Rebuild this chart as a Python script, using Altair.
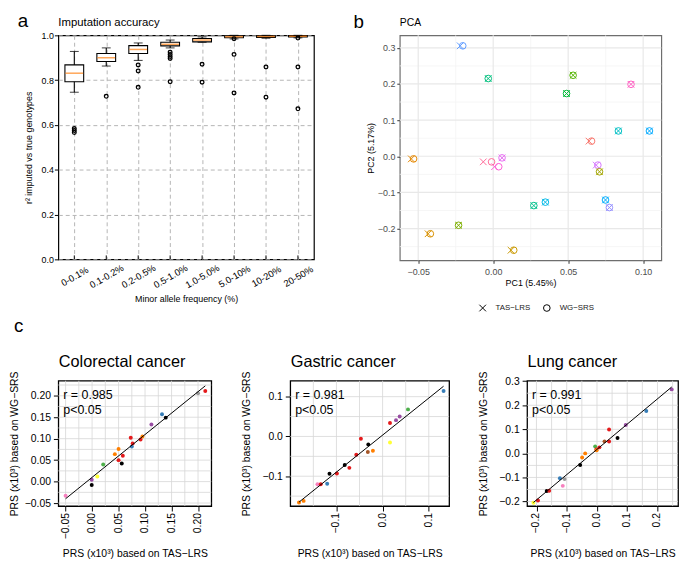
import altair as alt
import pandas as pd

FONT = "Liberation Sans"

# ---------------- panel a : imputation accuracy (box summaries) ----------------
maf_bins = ["0-0.1%", "0.1-0.2%", "0.2-0.5%", "0.5-1.0%", "1.0-5.0%", "5.0-10%", "10-20%", "20-50%"]
whisker_low = [0.746, 0.863, 0.888, 0.944, 0.969, 0.984, 0.987, 0.989]
box_q1 = [0.793, 0.883, 0.919, 0.953, 0.971, 0.989, 0.991, 0.993]
box_median = [0.831, 0.900, 0.937, 0.960, 0.979, 0.994, 0.995, 0.996]
box_q3 = [0.868, 0.919, 0.954, 0.969, 0.986, 0.998, 0.998, 0.999]
whisker_high = [0.928, 0.944, 0.966, 0.979, 0.993, 1.000, 1.000, 1.000]
outlier_bin = ["0-0.1%", "0-0.1%", "0-0.1%", "0.1-0.2%", "0.2-0.5%", "0.2-0.5%", "0.2-0.5%",
               "0.5-1.0%", "0.5-1.0%", "0.5-1.0%", "0.5-1.0%", "0.5-1.0%", "1.0-5.0%", "1.0-5.0%",
               "5.0-10%", "5.0-10%", "5.0-10%", "10-20%", "10-20%", "20-50%", "20-50%", "20-50%"]
outlier_value = [0.584, 0.575, 0.566, 0.728, 0.868, 0.841, 0.768,
                 0.925, 0.915, 0.905, 0.897, 0.793, 0.871, 0.791,
                 0.985, 0.915, 0.743, 0.859, 0.724, 0.988, 0.859, 0.672]

# ---------------- panel b : PCA ----------------
pca_color = ["#619CFF", "#00BF7D", "#53B400", "#00BA38", "#FF61C3", "#00BFC4", "#00A9FF",
             "#F8766D", "#E58700", "#FF6A98", "#FC61D5", "#E76BF3", "#D575FE", "#A3A500",
             "#00C08B", "#00B8E7", "#00ACFC", "#9590FF", "#7CAE00", "#D89000", "#C99800"]
pc1_tas = [-0.0220, -0.0033, 0.0533, 0.0489, 0.0919, 0.0835, 0.1042, 0.0639, -0.0546, -0.0066,
           0.0009, 0.0059, 0.0687, 0.0709, 0.0271, 0.0348, 0.0749, 0.0775, -0.0231, -0.0434, 0.0119]
pc2_tas = [0.3055, 0.2150, 0.2240, 0.1735, 0.1990, 0.0700, 0.0700, 0.0418, -0.0073, -0.0155,
           -0.0290, -0.0045, -0.0245, -0.0430, -0.1365, -0.1270, -0.1210, -0.1420, -0.1910, -0.2145, -0.2600]
pc1_wg = [-0.0203, -0.0033, 0.0533, 0.0489, 0.0919, 0.0835, 0.1042, 0.0656, -0.0531, -0.0011,
          0.0037, 0.0059, 0.0698, 0.0709, 0.0271, 0.0348, 0.0749, 0.0775, -0.0231, -0.0419, 0.0137]
pc2_wg = [0.3055, 0.2150, 0.2240, 0.1735, 0.1990, 0.0700, 0.0700, 0.0418, -0.0073, -0.0155,
          -0.0290, -0.0045, -0.0245, -0.0430, -0.1365, -0.1270, -0.1210, -0.1420, -0.1910, -0.2145, -0.2600]
platforms = ["TAS\u2212LRS", "WG\u2212SRS"]
pc1_major = [-0.05, 0.0, 0.05, 0.10]
pc1_minor = [-0.025, 0.025, 0.075]
pc2_major = [-0.2, -0.1, 0.0, 0.1, 0.2, 0.3]
pc2_minor = [-0.25, -0.15, -0.05, 0.05, 0.15, 0.25]

# ---------------- panel c : PRS ----------------
SET1 = {"red": "#E41A1C", "blue": "#377EB8", "green": "#4DAF4A", "purple": "#984EA3",
        "orange": "#FF7F00", "yellow": "#FFFF33", "brown": "#A65628", "pink": "#F781BF",
        "grey": "#999999", "black": "#000000"}

crc_tas = [-0.050, -0.0007, -0.0007, 0.0099, 0.021, 0.043, 0.050, 0.050, 0.056, 0.058,
           0.073, 0.075, 0.0766, 0.0915, 0.095, 0.112, 0.132, 0.139, 0.200, 0.2137]
crc_wg = [-0.033, -0.008, 0.0045, 0.012, 0.040, 0.064, 0.076, 0.050, 0.042, 0.060,
          0.102, 0.082, 0.089, 0.098, 0.105, 0.133, 0.157, 0.149, 0.206, 0.211]
crc_col = ["pink", "black", "purple", "yellow", "green", "orange", "orange", "red", "black", "red",
           "red", "blue", "red", "red", "orange", "purple", "blue", "black", "grey", "red"]

gc_tas = [-0.181, -0.171, -0.141, -0.134, -0.120, -0.115, -0.099, -0.082, -0.072, -0.057,
          -0.047, -0.032, -0.031, -0.021, 0.016, 0.016, 0.029, 0.037, 0.055, 0.132]
gc_wg = [-0.166, -0.162, -0.120, -0.120, -0.119, -0.094, -0.093, -0.072, -0.079, -0.046,
         -0.006, -0.039, -0.020, -0.036, -0.015, 0.034, 0.041, 0.050, 0.068, 0.114]
gc_col = ["orange", "orange", "pink", "red", "blue", "black", "red", "black", "red", "red",
          "red", "brown", "black", "orange", "yellow", "red", "purple", "purple", "green", "blue"]

lc_tas = [-0.210, -0.195, -0.166, -0.158, -0.1225, -0.113, -0.107, -0.0555, -0.049, -0.039,
          -0.006, -0.002, -0.001, 0.008, 0.025, 0.040, 0.040, 0.068, 0.095, 0.163, 0.247]
lc_wg = [-0.205, -0.196, -0.156, -0.155, -0.103, -0.135, -0.107, -0.048, -0.017, 0.000,
         0.029, 0.016, 0.013, 0.025, 0.050, 0.099, 0.049, 0.064, 0.118, 0.176, 0.266]
lc_col = ["yellow", "red", "black", "red", "blue", "pink", "grey", "black", "orange", "orange",
          "green", "red", "orange", "red", "brown", "red", "red", "black", "purple", "blue", "purple"]

one = pd.DataFrame({"k": [0]})


def anchor(l, t, r, b):
    # invisible rule fixing the extent of each panel's cell in the concat layout
    return alt.Chart(one).mark_rule(opacity=0, strokeWidth=0).encode(
        x=alt.value(l), x2=alt.value(r), y=alt.value(t), y2=alt.value(b))


def label(txt, x, y, size, align="left", baseline="alphabetic", color="black"):
    return alt.Chart(one).mark_text(align=align, baseline=baseline, fontSize=size,
                                    font=FONT, color=color).encode(
        x=alt.value(x), y=alt.value(y), text=alt.value(txt))


# ================= panel a =================
A_W, A_H = 259, 227
df_box = pd.DataFrame({"bin": maf_bins, "lo": whisker_low, "q1": box_q1, "med": box_median,
                       "q3": box_q3, "hi": whisker_high})
df_out = pd.DataFrame({"bin": outlier_bin, "v": outlier_value})
xa_scale = alt.Scale(type="point", domain=maf_bins, padding=0.5)
ya_scale = alt.Scale(domain=[0, 1], nice=False, zero=False)
GRID_A = "#b5b5b5"
xa_axis = alt.Axis(title="Minor allele frequency (%)", grid=True, gridDash=[4, 3], gridColor=GRID_A,
                   gridWidth=1, ticks=False, domain=False, labelAngle=-30, labelAlign="center",
                   labelBaseline="middle", labelPadding=17, labelFontSize=9.5, labelColor="black",
                   labelOverlap=False, titleFontSize=9, titleY=43, titleBaseline="alphabetic",
                   titleColor="black")
ya_axis = alt.Axis(title="r\u00b2 imputed vs true genotypes", values=[0, 0.2, 0.4, 0.6, 0.8, 1.0],
                   format=".1f", grid=True, gridDash=[4, 3], gridColor=GRID_A, gridWidth=1,
                   ticks=True, tickSize=4, tickColor="black", tickWidth=1, domain=False,
                   labelPadding=1, labelFontSize=9, labelColor="black", labelOverlap=False,
                   titleFontSize=9, titleX=-30, titleBaseline="middle", titleColor="black")
xa = alt.X("bin:N", scale=xa_scale, axis=xa_axis)


def ya(field):
    return alt.Y(field, scale=ya_scale, axis=ya_axis)


whisk = alt.Chart(df_box).mark_rule(color="black", strokeWidth=1.1).encode(
    x=xa, y=ya("lo:Q"), y2="hi:Q")
box = alt.Chart(df_box).mark_bar(size=19, fill="white", stroke="black", strokeWidth=1.1).encode(
    x=xa, y=ya("q1:Q"), y2="q3:Q")
med = alt.Chart(df_box).mark_tick(color="#FF7F0E", size=18, thickness=1.5, orient="horizontal").encode(
    x=xa, y=ya("med:Q"))
cap_lo = alt.Chart(df_box).mark_tick(color="black", size=9, thickness=1.1, orient="horizontal").encode(
    x=xa, y=ya("lo:Q"))
cap_hi = alt.Chart(df_box).mark_tick(color="black", size=9, thickness=1.1, orient="horizontal").encode(
    x=xa, y=ya("hi:Q"))
outl = alt.Chart(df_out).mark_point(shape="circle", filled=False, color="black", size=14,
                                    strokeWidth=1.3, opacity=1).encode(
    x=xa, y=ya("v:Q"))
inticks = alt.Chart(df_box).mark_rule(color="black", strokeWidth=1).encode(
    x=xa, y=alt.value(A_H), y2=alt.value(A_H - 4))

panel_a = alt.layer(
    whisk, box, med, cap_lo, cap_hi, outl, inticks,
    label("Imputation accuracy", 0, -9, 11.5),
    label("a", -41, -8, 19),
    anchor(-45, -23, 292, 282),
).properties(width=A_W, height=A_H, view=alt.ViewBackground(stroke="black", strokeWidth=1.2))

# ================= panel b =================
B_W, B_H = 265, 228
n_s = len(pca_color)
df_pca = pd.DataFrame({
    "pc1": pc1_tas + pc1_wg,
    "pc2": pc2_tas + pc2_wg,
    "col": pca_color + pca_color,
    "platform": [platforms[0]] * n_s + [platforms[1]] * n_s,
})
xb_scale = alt.Scale(domain=[-0.0623, 0.1121], nice=False, zero=False)
yb_scale = alt.Scale(domain=[-0.288, 0.3345], nice=False, zero=False)
xb_axis = alt.Axis(title="PC1 (5.45%)", values=pc1_major, format=".2f", grid=False, domain=False,
                   ticks=True, tickSize=3, tickColor="#333333", labelFontSize=9, labelColor="#4d4d4d",
                   labelPadding=4, labelOverlap=False, titleFontSize=9, titleY=25.5,
                   titleBaseline="alphabetic", titleColor="black")
yb_axis = alt.Axis(title="PC2 (5.17%)", values=pc2_major, format=".1f", grid=False, domain=False,
                   ticks=True, tickSize=3, tickColor="#333333", labelFontSize=9, labelColor="#4d4d4d",
                   labelPadding=2, labelOverlap=False, titleFontSize=9, titleX=-30,
                   titleBaseline="middle", titleColor="black")


def xb(field):
    return alt.X(field, scale=xb_scale, axis=xb_axis)


def yb(field):
    return alt.Y(field, scale=yb_scale, axis=yb_axis)


gbx_min = alt.Chart(pd.DataFrame({"g": pc1_minor})).mark_rule(color="#F3F3F3", strokeWidth=0.8).encode(
    x=xb("g:Q"))
gby_min = alt.Chart(pd.DataFrame({"g": pc2_minor})).mark_rule(color="#F3F3F3", strokeWidth=0.8).encode(
    y=yb("g:Q"))
gbx_maj = alt.Chart(pd.DataFrame({"g": pc1_major})).mark_rule(color="#E8E8E8", strokeWidth=1.2).encode(
    x=xb("g:Q"))
gby_maj = alt.Chart(pd.DataFrame({"g": pc2_major})).mark_rule(color="#E8E8E8", strokeWidth=1.2).encode(
    y=yb("g:Q"))

XPATH = "M-1,-1L1,1M1,-1L-1,1"
pts_b = alt.Chart(df_pca).mark_point(filled=False, size=45, strokeWidth=1, opacity=1).encode(
    x=xb("pc1:Q"),
    y=yb("pc2:Q"),
    color=alt.Color("col:N", scale=None),
    shape=alt.Shape("platform:N", scale=alt.Scale(domain=platforms, range=[XPATH, "circle"]),
                    legend=alt.Legend(title=None, orient="none", legendX=80, legendY=272,
                                      direction="horizontal", labelFontSize=8, labelColor="#222222",
                                      symbolSize=45, symbolStrokeWidth=1, symbolStrokeColor="black",
                                      symbolFillColor="transparent", columnPadding=10, labelOffset=9,
                                      padding=0)),
)

panel_b = alt.layer(
    gbx_min, gby_min, gbx_maj, gby_maj, pts_b,
    label("PCA", 0, -9.3, 10.5),
    label("b", -47, -7, 19),
    anchor(-52, -22, 286, 283),
).properties(width=B_W, height=B_H, view=alt.ViewBackground(stroke="#6e6e6e", strokeWidth=1.2))

# ================= panel c =================
C_H = 127


def prs_panel(name, r_txt, tas, wg, cols, xdom, ydom, xt, yt, gx, gy, fmt, width, anc, letter=None,
              title_x=-44):
    df = pd.DataFrame({"tas": tas, "wg": wg, "col": [SET1[c] for c in cols]})
    xs = alt.Scale(domain=xdom, nice=False, zero=False)
    ys = alt.Scale(domain=ydom, nice=False, zero=False)
    x_axis = alt.Axis(title="PRS (x10\u00b3) based on TAS\u2212LRS", values=xt, grid=False,
                      domain=False, ticks=True, tickSize=5, tickColor="black", tickWidth=1,
                      labels=False, titleFontSize=10.5, titleY=51, titleBaseline="alphabetic",
                      titleColor="black")
    y_axis = alt.Axis(title="PRS (x10\u00b3) based on WG\u2212SRS", values=yt, format=fmt, grid=False,
                      domain=False, ticks=True, tickSize=5, tickColor="black", tickWidth=1,
                      labelPadding=3, labelFontSize=10.5, labelColor="black", labelOverlap=False,
                      titleFontSize=10.5, titleX=title_x, titleBaseline="middle", titleColor="black")
    grid_x = alt.Chart(pd.DataFrame({"g": gx})).mark_rule(color="#D6D6D6", strokeWidth=0.8).encode(
        x=alt.X("g:Q", scale=xs, axis=x_axis))
    grid_y = alt.Chart(pd.DataFrame({"g": gy})).mark_rule(color="#D6D6D6", strokeWidth=0.8).encode(
        y=alt.Y("g:Q", scale=ys, axis=y_axis))
    pts = alt.Chart(df).mark_circle(size=16, opacity=1).encode(
        x=alt.X("tas:Q", scale=xs, axis=x_axis),
        y=alt.Y("wg:Q", scale=ys, axis=y_axis),
        color=alt.Color("col:N", scale=None))
    fit = alt.Chart(df).transform_regression("tas", "wg").mark_line(color="black", strokeWidth=1).encode(
        x=alt.X("tas:Q", scale=xs, axis=x_axis), y=alt.Y("wg:Q", scale=ys, axis=y_axis))
    xlab = alt.Chart(pd.DataFrame({"t": xt})).mark_text(
        angle=270, align="right", baseline="middle", fontSize=10.5, font=FONT, color="black").encode(
        x=alt.X("t:Q", scale=xs, axis=x_axis), y=alt.value(C_H + 7), text=alt.Text("t:Q", format=fmt))
    layers = [grid_x, grid_y, pts, fit, xlab,
              label(name, 0.5, -14, 16.5),
              label(r_txt, 5, 18, 12.6),
              label("p<0.05", 5, 34, 12.6)]
    if letter:
        layers.append(label(letter, -45, -49.3, 19))
    layers.append(anchor(*anc))
    return alt.layer(*layers).properties(
        width=width, height=C_H, view=alt.ViewBackground(stroke="black", strokeWidth=1.3))


c1 = prs_panel("Colorectal cancer", "r = 0.985", crc_tas, crc_wg, crc_col,
               [-0.0637, 0.225], [-0.057, 0.235],
               [-0.05, 0.0, 0.05, 0.10, 0.15, 0.20], [-0.05, 0.0, 0.05, 0.10, 0.15, 0.20],
               [-0.05, -0.025, 0.0, 0.025, 0.05, 0.075, 0.1, 0.125, 0.15, 0.175, 0.2],
               [-0.05, -0.025, 0.0, 0.025, 0.05, 0.075, 0.1, 0.125, 0.15, 0.175, 0.2, 0.225],
               ".2f", 155, (-50, -65, 182, 181), letter="c", title_x=-44)
c2 = prs_panel("Gastric cancer", "r = 0.981", gc_tas, gc_wg, gc_col,
               [-0.2, 0.144], [-0.175, 0.14],
               [-0.1, 0.0, 0.1], [-0.1, 0.0, 0.1],
               [-0.15, -0.1, -0.05, 0.0, 0.05, 0.1],
               [-0.15, -0.1, -0.05, 0.0, 0.05, 0.1],
               ".1f", 161, (-51, -65, 183, 181), title_x=-44)
c3 = prs_panel("Lung cancer", "r = 0.991", lc_tas, lc_wg, lc_col,
               [-0.231, 0.268], [-0.219, 0.302],
               [-0.2, -0.1, 0.0, 0.1, 0.2], [-0.2, -0.1, 0.0, 0.1, 0.2, 0.3],
               [-0.2, -0.15, -0.1, -0.05, 0.0, 0.05, 0.1, 0.15, 0.2, 0.25],
               [-0.2, -0.15, -0.1, -0.05, 0.0, 0.05, 0.1, 0.15, 0.2, 0.25],
               ".1f", 153, (-55, -65, 154, 181), title_x=-44)

row1 = alt.hconcat(panel_a, panel_b, spacing=0).resolve_scale(
    shape="independent", color="independent").resolve_legend(shape="independent")
row2 = alt.hconcat(c1, c2, c3, spacing=0).resolve_scale(color="independent")
chart = alt.vconcat(row1, row2, spacing=0).resolve_scale(
    shape="independent", color="independent").resolve_legend(shape="independent").properties(
    padding=0).configure(font=FONT).configure_axis(
    labelFont=FONT, titleFont=FONT, titleFontWeight="normal").configure_legend(labelFont=FONT)

chart.save("out.html", embed_options={"renderer": "svg", "actions": False})
